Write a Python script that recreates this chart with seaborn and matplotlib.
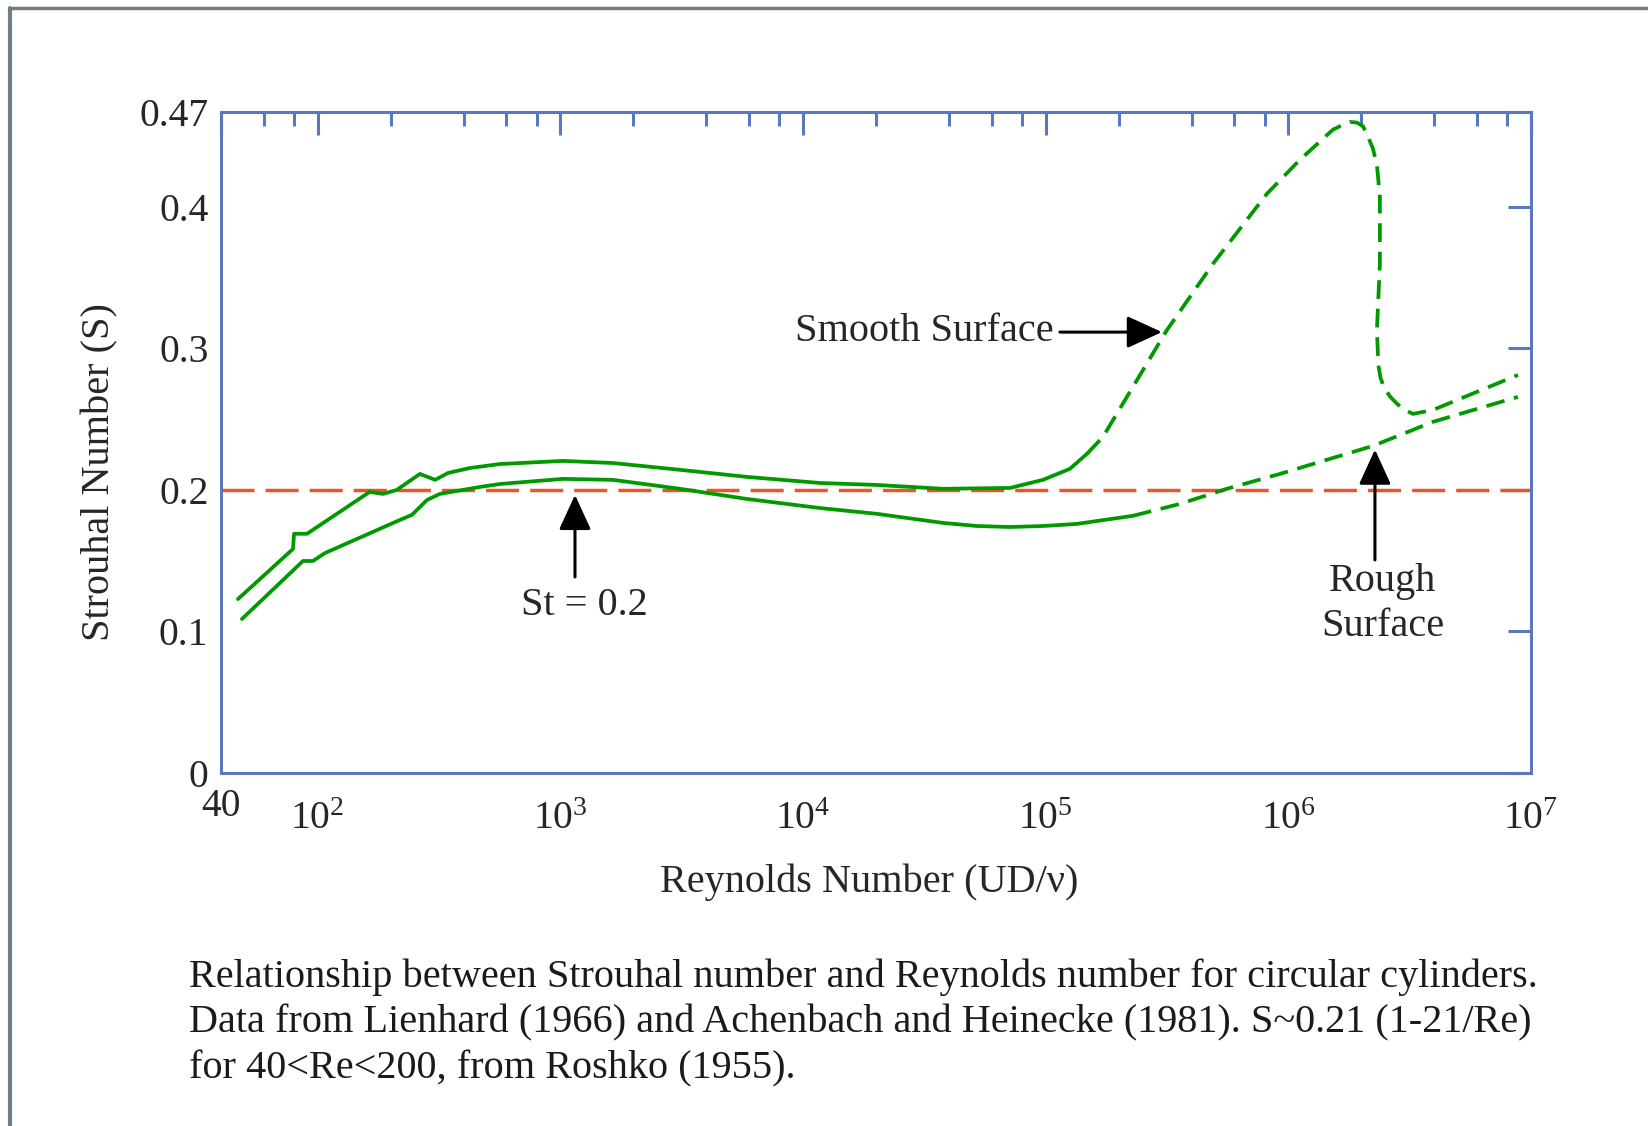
import numpy as np
import pandas as pd
import matplotlib
matplotlib.use('Agg')
import matplotlib.pyplot as plt
import seaborn as sns
from matplotlib.lines import Line2D

# ---- data ----
# smooth surface, upper bound (solid part)
upper_re = [47, 79.2, 80, 90.4, 164, 186, 212, 264, 305, 345, 425, 565, 1026, 1649,
            3113, 5878, 11750, 20180, 37750, 71290, 97500, 125900, 148000]
upper_st = [0.1229, 0.1583, 0.1690, 0.1690, 0.1986, 0.1972, 0.2000, 0.2113, 0.2071,
            0.2120, 0.2155, 0.2183, 0.2205, 0.2190, 0.2142, 0.2092, 0.2049, 0.2035,
            0.2008, 0.2014, 0.2071, 0.2149, 0.2255]

# smooth surface, dashed continuation (peak and drop)
smooth_re = [148000, 172200, 316200, 489000, 816000, 1117000, 1527000, 1633000,
             1795000, 1919000, 2029000, 2108000, 2233000, 2318000, 2384000, 2384000,
             2318000, 2350000, 2400000, 2480000, 2624000, 2801000, 2965000, 3261000,
             3944000, 8831000]
smooth_st = [0.2255, 0.2374, 0.3130, 0.3597, 0.4092, 0.4333, 0.4545, 0.4570,
             0.4600, 0.4595, 0.4570, 0.4515, 0.4410, 0.4295, 0.4070, 0.3597,
             0.3130, 0.2880, 0.2790, 0.2725, 0.2660, 0.2610, 0.2573, 0.2537,
             0.2565, 0.2812]

# lower bound (solid part)
lower_re = [48.8, 87.1, 95.7, 107.3, 218.6, 244.9, 282.4, 319.3, 467, 565, 1026,
            1649, 3113, 5878, 11750, 20180, 37750, 52120, 71290, 97500, 134600, 229000]
lower_st = [0.1088, 0.1498, 0.1498, 0.1554, 0.1788, 0.1824, 0.1929, 0.1972, 0.2021,
            0.2042, 0.2078, 0.2071, 0.2008, 0.1936, 0.1872, 0.1831, 0.1767, 0.1745,
            0.1738, 0.1745, 0.1760, 0.1817]

# rough surface, dashed continuation
rough_re = [229000, 357300, 558500, 923000, 2233000, 3944000, 8831000]
rough_st = [0.1817, 0.1901, 0.2008, 0.2113, 0.2311, 0.2481, 0.2657]

st_ref = 0.2

x_major = [40, 1e2, 1e3, 1e4, 1e5, 1e6, 1e7]
x_major_labels = ['', r'$\mathregular{10^{2}}$', r'$\mathregular{10^{3}}$',
                  r'$\mathregular{10^{4}}$', r'$\mathregular{10^{5}}$',
                  r'$\mathregular{10^{6}}$', r'$\mathregular{10^{7}}$']
x_minor = [60, 80, 200, 400, 600, 800, 2e3, 4e3, 6e3, 8e3, 2e4, 4e4, 6e4, 8e4,
           2e5, 4e5, 6e5, 8e5, 2e6, 4e6, 6e6, 8e6]
y_top = 0.467
y_ticks = [0, 0.1, 0.2, 0.3, 0.4, y_top]
y_labels = ['0', '0.1', '0.2', '0.3', '0.4', '0.47']

caption = ["Relationship between Strouhal number and Reynolds number for circular cylinders.",
           "Data from Lienhard (1966) and Achenbach and Heinecke (1981). S~0.21 (1-21/Re)",
           "for 40<Re<200, from Roshko (1955)."]

# ---- style ----
sns.set_style('white')
plt.rcParams['font.family'] = ['Liberation Serif', 'DejaVu Serif']
plt.rcParams['mathtext.fontset'] = 'custom'
plt.rcParams['mathtext.rm'] = 'Liberation Serif'

GREEN = '#009a00'
RED = '#e8562a'
BLUE = '#5b78be'
FS = 29

fig = plt.figure(figsize=(16.48, 11.26), dpi=100)
ax = fig.add_axes([221 / 1648, 1 - 773 / 1126, 1310 / 1648, 661 / 1126])
ax.set_xscale('log')

curves = [
    (upper_re, upper_st, '-'),
    (smooth_re, smooth_st, '--'),
    (lower_re, lower_st, '-'),
    (rough_re, rough_st, '--'),
]
for re_vals, st_vals, ls in curves:
    df = pd.DataFrame({'Re': re_vals, 'St': st_vals})
    sns.lineplot(data=df, x='Re', y='St', sort=False, estimator=None,
                 color=GREEN, lw=2.7, ax=ax)
    l = ax.lines[-1]
    if ls == '--':
        l.set_dashes((5.0, 2.6))
    l.set_solid_joinstyle('round')

ax.axhline(st_ref, color=RED, lw=2.5, dashes=(9.5, 3.2), zorder=1)

ax.set_xlim(40, 1e7)
ax.set_ylim(0, y_top)

ax.xaxis.set_major_locator(matplotlib.ticker.FixedLocator(x_major))
ax.xaxis.set_minor_locator(matplotlib.ticker.FixedLocator(x_minor))
ax.set_xticklabels(x_major_labels)
ax.xaxis.set_minor_formatter(matplotlib.ticker.NullFormatter())
ax.set_yticks(y_ticks)
ax.set_yticklabels(y_labels)

ax.tick_params(which='both', direction='in', top=True, right=True,
               color=BLUE, width=2.2, labelsize=28.5)
ax.tick_params(which='major', length=16.5)
ax.tick_params(which='minor', length=10)
ax.tick_params(axis='x', pad=20)
ax.tick_params(axis='y', pad=9)
for s in ax.spines.values():
    s.set_color(BLUE)
    s.set_linewidth(2.2)

# the "40" at the left end of the axis sits a bit higher than the decades
ax.text(40, -0.05, '40', transform=ax.get_xaxis_transform(), fontsize=28.5,
        ha='center', va='center')

ax.set_xlabel('Reynolds Number (UD/\u03bd)', fontsize=FS)
ax.set_ylabel('Strouhal Number (S)', fontsize=FS)
ax.xaxis.set_label_coords(0.495, -0.137)
ax.yaxis.set_label_coords(-0.078, 0.456)

# annotations
arrow = dict(arrowstyle='-|>,head_length=1.2,head_width=0.55', color='black',
             lw=2.2, mutation_scale=18, shrinkA=0, shrinkB=0)
ax.annotate('', xy=(301500, 0.3115), xytext=(114500, 0.3115), arrowprops=arrow)
ax.text(108000, 0.3119, 'Smooth Surface', fontsize=FS, ha='right', va='center')

ax.annotate('', xy=(1150, 0.1965), xytext=(1150, 0.1385), arrowprops=arrow)
ax.text(1252, 0.1185, 'St = 0.2', fontsize=FS, ha='center', va='center')

ax.annotate('', xy=(2275000, 0.2285), xytext=(2275000, 0.1505), arrowprops=arrow)
ax.text(2455000, 0.1195, 'Rough\nSurface', fontsize=FS, ha='center', va='center',
        linespacing=1.3)

# caption
for i, line_txt in enumerate(caption):
    fig.text(189 / 1648, 1 - (977 + 46 * i) / 1126, line_txt, fontsize=FS,
             ha='left', va='center', color='#1a1a1a')

# page frame (top and left edges)
frame_c = '#737d87'
fig.add_artist(Line2D([10 / 1648, 1], [1 - 7.5 / 1126, 1 - 7.5 / 1126],
                      transform=fig.transFigure, color=frame_c, lw=2.5))
fig.add_artist(Line2D([10 / 1648, 10 / 1648], [0, 1 - 7.5 / 1126],
                      transform=fig.transFigure, color=frame_c, lw=3))

fig.savefig('out.png', dpi=100)
